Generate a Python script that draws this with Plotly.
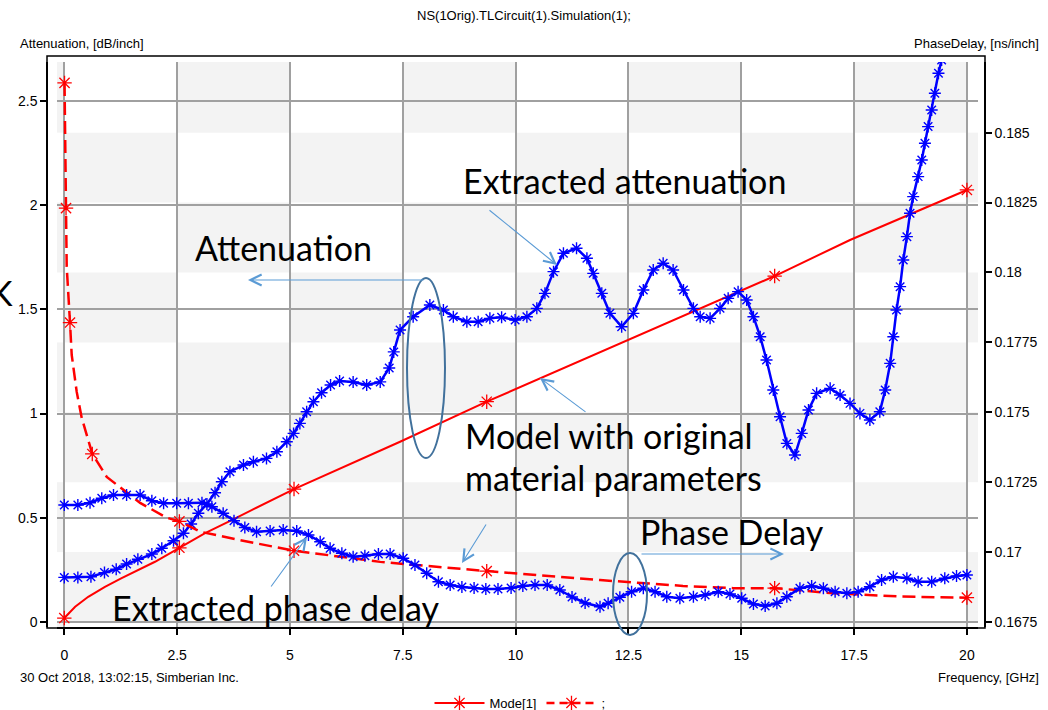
import plotly.graph_objects as go

# ---------------- data ----------------
freq_ticks = [0, 2.5, 5, 7.5, 10, 12.5, 15, 17.5, 20]
freq_ticktext = ["0", "2.5", "5", "7.5", "10", "12.5", "15", "17.5", "20"]
att_ticks = [0, 0.5, 1, 1.5, 2, 2.5]
att_ticktext = ["0", "0.5", "1", "1.5", "2", "2.5"]
pd_ticks = [0.1675, 0.17, 0.1725, 0.175, 0.1775, 0.18, 0.1825, 0.185]
pd_ticktext = ["0.1675", "0.17", "0.1725", "0.175", "0.1775", "0.18", "0.1825", "0.185"]

# Model (original material parameters) - attenuation, dB/inch
model_att_f = [0.0, 0.24, 0.53, 0.90, 1.27, 1.64, 2.01, 2.55, 3.12, 3.71, 4.23, 5.09,
               7.44, 9.36, 15.74, 17.41, 20.0]
model_att_v = [0.019, 0.073, 0.121, 0.169, 0.210, 0.250, 0.289, 0.356, 0.426, 0.489, 0.546, 0.638,
               0.865, 1.057, 1.660, 1.833, 2.073]
model_att_marks = [0.0, 2.55, 5.09, 9.36, 15.74, 20.0]

# Model - phase delay, ns/inch
model_pd_f = [0.005, 0.038, 0.053, 0.126, 0.164, 0.275, 0.386, 0.62, 0.94, 1.68, 2.27, 2.55,
              3.01, 3.89, 4.63, 5.09, 7.0, 9.36, 11.87, 12.82, 13.71, 14.82, 15.74, 17.03,
              18.52, 20.0]
model_pd_v = [0.18678, 0.18230, 0.18021, 0.17821, 0.17705, 0.17573, 0.17480, 0.17351, 0.17269,
              0.17176, 0.17123, 0.17110, 0.17073, 0.17043, 0.17019, 0.17005, 0.16965, 0.16932,
              0.16900, 0.16888, 0.16879, 0.16871, 0.16871, 0.16853, 0.16841, 0.16837]
model_pd_marks = [0.005, 0.038, 0.126, 0.62, 2.55, 5.09, 9.36, 15.74, 20.0]

# Extracted attenuation, dB/inch
ext_att_f = [0.0, 0.30, 0.59, 0.89, 1.15, 1.38, 1.63, 1.94, 2.16, 2.42, 2.64, 2.81, 2.97, 3.16,
             3.34, 3.49, 3.67, 3.97, 4.19, 4.48, 4.71, 4.93, 5.08, 5.22, 5.37, 5.52, 5.70, 5.90,
             6.10, 6.40, 6.70, 7.00, 7.20, 7.30, 7.44, 7.73, 8.10, 8.40, 8.62, 8.92, 9.17, 9.43,
             9.69, 9.99, 10.25, 10.47, 10.65, 10.84, 11.06, 11.35, 11.58, 11.72, 11.91, 12.09,
             12.35, 12.61, 12.83, 13.05, 13.27, 13.49, 13.72, 13.94, 14.09, 14.31, 14.53, 14.71,
             14.93, 15.12, 15.27, 15.42, 15.56, 15.71, 15.86, 16.01, 16.19, 16.34, 16.49, 16.67,
             16.97, 17.19, 17.41, 17.63, 17.85, 18.07, 18.19, 18.30, 18.37, 18.44, 18.52, 18.59,
             18.67, 18.74, 18.81, 18.92, 19.00, 19.07, 19.14, 19.22, 19.29, 19.37, 19.44]
ext_att_v = [0.214, 0.214, 0.217, 0.237, 0.253, 0.278, 0.301, 0.326, 0.354, 0.390, 0.426, 0.470,
             0.522, 0.566, 0.620, 0.673, 0.721, 0.753, 0.769, 0.785, 0.817, 0.865, 0.905, 0.953,
             1.009, 1.057, 1.100, 1.137, 1.156, 1.152, 1.137, 1.152, 1.219, 1.296, 1.401, 1.465,
             1.521, 1.497, 1.465, 1.441, 1.441, 1.457, 1.462, 1.449, 1.465, 1.505, 1.577, 1.681,
             1.769, 1.793, 1.745, 1.673, 1.577, 1.481, 1.417, 1.481, 1.593, 1.689, 1.721, 1.689,
             1.593, 1.505, 1.465, 1.457, 1.505, 1.553, 1.585, 1.545, 1.465, 1.369, 1.257, 1.113,
             0.985, 0.857, 0.801, 0.905, 1.017, 1.097, 1.121, 1.089, 1.049, 1.001, 0.969, 1.009,
             1.113, 1.241, 1.369, 1.497, 1.609, 1.737, 1.849, 1.961, 2.041, 2.137, 2.217, 2.297,
             2.377, 2.457, 2.537, 2.633, 2.697]

# Extracted phase delay, ns/inch
ext_pd_f = [0.0, 0.30, 0.57, 0.83, 1.09, 1.38, 1.68, 1.94, 2.20, 2.49, 2.75, 3.05, 3.27, 3.52,
            3.76, 4.00, 4.26, 4.56, 4.85, 5.15, 5.41, 5.67, 5.89, 6.15, 6.40, 6.66, 6.96, 7.22,
            7.51, 7.77, 8.03, 8.29, 8.55, 8.81, 9.08, 9.34, 9.61, 9.90, 10.16, 10.43, 10.70,
            10.98, 11.25, 11.54, 11.87, 12.05, 12.31, 12.57, 12.83, 13.09, 13.35, 13.64, 13.94,
            14.20, 14.49, 14.75, 15.01, 15.27, 15.53, 15.79, 16.01, 16.30, 16.56, 16.82, 17.08,
            17.34, 17.59, 17.85, 18.11, 18.37, 18.67, 18.92, 19.22, 19.51, 19.77, 20.0]
ext_pd_v = [0.171685, 0.171685, 0.171767, 0.171924, 0.172042, 0.172042, 0.172042, 0.171838,
            0.171745, 0.171745, 0.171745, 0.171767, 0.171624, 0.171388, 0.171120, 0.170880,
            0.170730, 0.170755, 0.170790, 0.170755, 0.170612, 0.170372, 0.170136, 0.169957,
            0.169835, 0.169871, 0.169932, 0.169932, 0.169778, 0.169539, 0.169242, 0.168941,
            0.168823, 0.168752, 0.168716, 0.168680, 0.168680, 0.168716, 0.168788, 0.168823,
            0.168823, 0.168644, 0.168394, 0.168180, 0.168047, 0.168169, 0.168383, 0.168584,
            0.168705, 0.168584, 0.168405, 0.168348, 0.168405, 0.168466, 0.168584, 0.168501,
            0.168348, 0.168144, 0.168072, 0.168169, 0.168405, 0.168705, 0.168788, 0.168705,
            0.168584, 0.168526, 0.168584, 0.168762, 0.169002, 0.169120, 0.169063, 0.168941,
            0.168941, 0.169063, 0.169145, 0.169181]

# ---------------- layout constants ----------------
W, H = 1048, 710
ML, MR, MT, MB = 47, 63, 56, 82
PW, PH = W - ML - MR, H - MT - MB


def px(x):
    return (x - ML) / PW


def py(y):
    return (H - MB - y) / PH


X_LO, X_HI = -0.162, 20.246
L_LO, L_HI = -0.024, 2.687
R_LO, R_HI = 0.167321, 0.187528

UI_FONT = "Liberation Sans, Arial, sans-serif"
NOTE_FONT = "Lato, Open Sans, sans-serif"
RED, BLUE = "#FF0000", "#0000FF"
GRAY_CELL = "#f3f3f3"
GRID = "#a0a0a0"
ARROW = "#5B9BD5"
ELLIPSE = "#41719C"

fig = go.Figure()

# checkerboard background (columns = frequency grid, rows = phase delay ticks)
xb = [X_LO] + freq_ticks + [X_HI]
rb = [R_LO] + pd_ticks + [R_HI]
for i in range(len(xb) - 1):
    for j in range(len(rb) - 1):
        if ((i - 1) + (j - 1)) % 2 == 0:
            fig.add_shape(type="rect", xref="x", yref="y2", x0=xb[i], x1=xb[i + 1],
                          y0=rb[j], y1=rb[j + 1], fillcolor=GRAY_CELL, line_width=0,
                          layer="below")


def pick(fs, vs, marks):
    mf = [f for f in fs if f in marks]
    mv = [v for f, v in zip(fs, vs) if f in marks]
    return mf, mv


star_red = dict(symbol="asterisk-open", size=12, color=RED, line=dict(color=RED, width=1.3))
star_blue = dict(symbol="asterisk-open", size=10, color=BLUE, line=dict(color=BLUE, width=1.4))

# model attenuation
fig.add_trace(go.Scatter(x=model_att_f, y=model_att_v, mode="lines", yaxis="y",
                         line=dict(color=RED, width=2), showlegend=False, hoverinfo="skip"))
mf, mv = pick(model_att_f, model_att_v, model_att_marks)
fig.add_trace(go.Scatter(x=mf, y=mv, mode="markers", yaxis="y", marker=star_red,
                         showlegend=False))
# extracted attenuation
fig.add_trace(go.Scatter(x=ext_att_f, y=ext_att_v, mode="lines+markers", yaxis="y",
                         line=dict(color=BLUE, width=2.5), marker=star_blue, showlegend=False))
# model phase delay
fig.add_trace(go.Scatter(x=model_pd_f, y=model_pd_v, mode="lines", yaxis="y2",
                         line=dict(color=RED, width=2.5, dash="13px,6px"), showlegend=False))
mf, mv = pick(model_pd_f, model_pd_v, model_pd_marks)
fig.add_trace(go.Scatter(x=mf, y=mv, mode="markers", yaxis="y2", marker=star_red,
                         showlegend=False))
# extracted phase delay
fig.add_trace(go.Scatter(x=ext_pd_f, y=ext_pd_v, mode="lines+markers", yaxis="y2",
                         line=dict(color=BLUE, width=2.5), marker=star_blue, showlegend=False))

# legend entries
fig.add_trace(go.Scatter(x=[None], y=[None], mode="lines+markers", name="Mode[1]",
                         line=dict(color=RED, width=2), marker=star_red))
fig.add_trace(go.Scatter(x=[None], y=[None], mode="lines+markers", name=";",
                         line=dict(color=RED, width=2.5, dash="8px,5px"), marker=star_red))

tickfont = dict(family=UI_FONT, size=14, color="black")
fig.update_layout(
    width=W, height=H,
    margin=dict(l=ML, r=MR, t=MT, b=MB, autoexpand=False),
    paper_bgcolor="white", plot_bgcolor="white",
    showlegend=True,
    legend=dict(orientation="h", x=px(520), xanchor="center", y=py(703), yanchor="middle",
                font=dict(family=UI_FONT, size=13, color="black"), itemwidth=50,
                bgcolor="rgba(0,0,0,0)"),
    xaxis=dict(domain=[px(57), px(978)], range=[X_LO, X_HI], anchor="free", position=0,
               tickmode="array", tickvals=freq_ticks, ticktext=freq_ticktext,
               ticks="outside", ticklen=6, tickwidth=1.5, tickcolor="black",
               showline=True, linecolor="black", linewidth=1.5,
               showgrid=True, gridcolor=GRID, gridwidth=1.6, zeroline=False,
               ticklabelstandoff=8, tickfont=tickfont),
    yaxis=dict(domain=[py(627), py(62)], range=[L_LO, L_HI], anchor="free", position=0,
               tickmode="array", tickvals=att_ticks, ticktext=att_ticktext,
               ticks="outside", ticklen=6, tickwidth=1.5, tickcolor="black",
               showline=True, linecolor="black", linewidth=1.5,
               showgrid=True, gridcolor=GRID, gridwidth=1.6, zeroline=False,
               tickfont=tickfont),
    yaxis2=dict(overlaying="y", side="right", anchor="free", position=1,
                range=[R_LO, R_HI], tickmode="array", tickvals=pd_ticks, ticktext=pd_ticktext,
                ticks="outside", ticklen=6, tickwidth=1.5, tickcolor="black",
                showline=True, linecolor="black", linewidth=1.5,
                showgrid=False, zeroline=False, tickfont=tickfont),
)

# frame
fig.add_shape(type="rect", xref="paper", yref="paper", x0=0, x1=1, y0=0, y1=1,
              line=dict(color="black", width=1.5), layer="above")


def label(text, x, y, anchor, size=13):
    fig.add_annotation(text=text, x=px(x), y=py(y), xref="paper", yref="paper",
                       xanchor=anchor, yanchor="middle", showarrow=False,
                       font=dict(family=UI_FONT, size=size, color="black"))


label("NS(1Orig).TLCircuit(1).Simulation(1);", 524, 16, "center")
label("Attenuation, [dB/inch]", 18, 44, "left")
label("PhaseDelay, [ns/inch]", 1041, 44, "right")
label("30 Oct 2018, 13:02:15, Simberian Inc.", 18, 677, "left")
label("Frequency, [GHz]", 1041, 677, "right")


def note(text, x, y):
    fig.add_annotation(text=text, x=px(x), y=py(y), xref="paper", yref="paper",
                       xanchor="left", yanchor="middle", showarrow=False,
                       font=dict(family=NOTE_FONT, size=34, color="black"))


note("Extracted attenuation", 461, 180)
note("Attenuation", 193, 248)
note("Model with original", 463, 435)
note("material parameters", 463, 478)
note("Phase Delay", 638, 531)
note("Extracted phase delay", 110, 607)
note("K", -12, 292)


def arrow(tail, head):
    fig.add_annotation(x=px(head[0]), y=py(head[1]), xref="paper", yref="paper",
                       ax=tail[0] - head[0], ay=tail[1] - head[1], axref="pixel", ayref="pixel",
                       text="", showarrow=True, arrowhead=5, arrowsize=2, arrowwidth=1.1,
                       arrowcolor=ARROW, standoff=0)


arrow((488, 209), (557, 265))
arrow((425, 280), (248, 280))
arrow((587, 413), (540, 378))
arrow((640, 554), (784, 554))
arrow((270, 588), (307, 537))
arrow((487, 523), (462, 563))


def ellipse(cx, cy, rx, ry):
    fig.add_shape(type="circle", xref="paper", yref="paper",
                  x0=px(cx - rx), x1=px(cx + rx), y0=py(cy + ry), y1=py(cy - ry),
                  line=dict(color=ELLIPSE, width=2), layer="above")


ellipse(426, 368, 19, 90)
ellipse(630, 594, 17, 41)

fig.write_html("out.html")
